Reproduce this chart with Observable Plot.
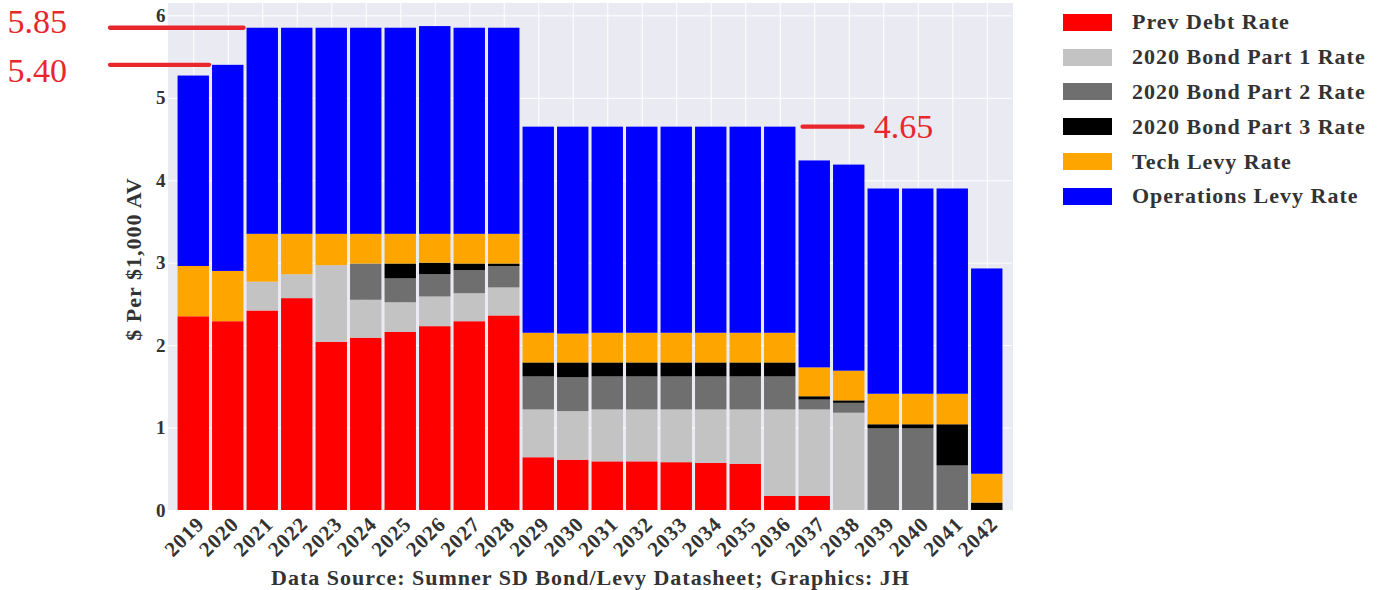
<!DOCTYPE html>
<html><head><meta charset="utf-8">
<script src="https://cdn.jsdelivr.net/npm/d3@7"></script>
<script src="https://cdn.jsdelivr.net/npm/@observablehq/plot@0.6"></script>
<style>
body{margin:0;background:#fff;}
#wrap{position:relative;width:1385px;height:590px;}
#legend{position:absolute;left:1063px;top:5px;font-family:"Liberation Serif",serif;font-weight:bold;font-size:22px;color:#333;letter-spacing:1px;}
.item{display:flex;align-items:center;height:34.8px;white-space:nowrap;}
.sw{width:49px;height:17px;margin-right:20px;}
</style></head><body><div id="wrap"><div id="legend"></div></div>
<script>
const years = ["2019","2020","2021","2022","2023","2024","2025","2026","2027","2028","2029","2030","2031","2032","2033","2034","2035","2036","2037","2038","2039","2040","2041","2042"];
const prevDebt  = [2.35,2.29,2.42,2.57,2.04,2.09,2.16,2.23,2.29,2.36,0.64,0.61,0.59,0.59,0.58,0.57,0.56,0.17,0.17,0,0,0,0,0];
const bondPart1 = [0,0,0.35,0.29,0.93,0.46,0.36,0.36,0.34,0.34,0.58,0.59,0.63,0.63,0.64,0.65,0.66,1.05,1.05,1.18,0,0,0,0];
const bondPart2 = [0,0,0,0,0,0.44,0.29,0.27,0.28,0.26,0.40,0.41,0.40,0.40,0.40,0.40,0.40,0.40,0.12,0.12,0.99,0.99,0.54,0];
const bondPart3 = [0,0,0,0,0,0,0.18,0.14,0.08,0.03,0.17,0.18,0.17,0.17,0.17,0.17,0.17,0.17,0.04,0.03,0.05,0.05,0.50,0.09];
const techLevy  = [0.61,0.61,0.58,0.49,0.38,0.36,0.36,0.35,0.36,0.36,0.36,0.35,0.36,0.36,0.36,0.36,0.36,0.36,0.35,0.36,0.37,0.37,0.37,0.35];
const opsLevy   = [2.31,2.50,2.50,2.50,2.50,2.50,2.50,2.52,2.50,2.50,2.50,2.51,2.50,2.50,2.50,2.50,2.50,2.50,2.51,2.50,2.49,2.49,2.49,2.49];
const seriesNames = ["Prev Debt Rate","2020 Bond Part 1 Rate","2020 Bond Part 2 Rate","2020 Bond Part 3 Rate","Tech Levy Rate","Operations Levy Rate"];
const seriesColors = ["#ff0000","#c3c3c3","#6f6f6f","#000000","#ffa500","#0000ff"];
const yTicks = [0,1,2,3,4,5,6];
const yLabel = "$ Per $1,000 AV";
const xLabel = "Data Source: Sumner SD Bond/Levy Datasheet; Graphics: JH";
const annotations = [
  {label: "5.85", value: 5.85, toYear: "2021"},
  {label: "5.40", value: 5.40, toYear: "2020"},
  {label: "4.65", value: 4.65, fromYear: "2037"}
];

const seriesValues = [prevDebt, bondPart1, bondPart2, bondPart3, techLevy, opsLevy];
const data = [];
seriesNames.forEach((s, si) => years.forEach((y, yi) => data.push({year: y, series: s, value: seriesValues[si][yi]})));

const serif = '"Liberation Serif", "Times New Roman", serif';
const annotColor = "#e8262c";
const annotStyle = {text: "label", fontSize: 34, fontWeight: "normal", fontFamily: serif, fill: annotColor, lineAnchor: "middle"};
const plot = Plot.plot({
  width: 1385, height: 590,
  marginLeft: 168, marginRight: 373, marginTop: 3, marginBottom: 80,
  style: {fontFamily: serif, fontWeight: "bold", color: "#333", background: "transparent", letterSpacing: "1px", overflow: "visible"},
  x: {type: "band", domain: years, paddingInner: 0.09, paddingOuter: 0.045, inset: 8, round: false, label: null},
  y: {domain: [0, 6.15], label: null},
  color: {domain: seriesNames, range: seriesColors},
  marks: [
    Plot.frame({fill: "#eaeaf2", stroke: "#eaeaf2"}),
    Plot.gridY(yTicks, {stroke: "white", strokeOpacity: 1, strokeWidth: 1}),
    Plot.gridX({stroke: "white", strokeOpacity: 1, strokeWidth: 1}),
    Plot.barY(data, {x: "year", y: "value", fill: "series", order: seriesNames}),
    Plot.axisY(yTicks, {tickSize: 0, tickPadding: 2, fontSize: 19, tickFormat: d => String(d), label: null}),
    Plot.axisX({tickSize: 0, tickPadding: 10, tickRotate: -45, fontSize: 21, dx: 7, label: null}),
    Plot.text([yLabel], {frameAnchor: "left", textAnchor: "middle", lineAnchor: "middle", dx: -35, dy: 2, rotate: -90, fontSize: 22, fontWeight: "bold", fill: "#333"}),
    Plot.text([xLabel], {frameAnchor: "bottom", textAnchor: "middle", lineAnchor: "middle", dy: 67, fontSize: 22, fontWeight: "bold", fill: "#333"}),
    Plot.text(annotations.filter(d => d.value > 5.6), {...annotStyle, frameAnchor: "left", textAnchor: "start", y: "value", dx: -161, dy: -6}),
    Plot.text(annotations.filter(d => d.toYear && d.value < 5.6), {...annotStyle, frameAnchor: "left", textAnchor: "start", y: "value", dx: -161, dy: 6}),
    Plot.text(annotations.filter(d => d.fromYear), {...annotStyle, x: "fromYear", y: "value", dx: 59, textAnchor: "start"})
  ]
});
document.getElementById("wrap").prepend(plot);

// annotation rules using the plot's scales
const xs = plot.scale("x"), ys = plot.scale("y");
const svg = d3.select(plot);
const g = svg.append("g").attr("stroke", annotColor).attr("stroke-width", 4.3).attr("stroke-linecap", "round");
annotations.forEach(a => {
  const y = ys.apply(a.value);
  let x1, x2;
  if (a.toYear) { x1 = 168 - 58; x2 = xs.apply(a.toYear) - 3; }
  else { x1 = xs.apply(a.fromYear) + 4; x2 = x1 + 60; }
  g.append("line").attr("x1", x1).attr("x2", x2).attr("y1", y).attr("y2", y);
});
svg.selectAll("g").filter(function(){ return d3.select(this).attr("fill") === annotColor; }).style("letter-spacing", "0px");
svg.selectAll("text").filter(function(){ return d3.select(this).attr("fill") === annotColor; }).style("letter-spacing", "0px");

const legend = d3.select("#legend");
seriesNames.forEach((s, i) => {
  const it = legend.append("div").attr("class", "item");
  it.append("div").attr("class", "sw").style("background", seriesColors[i]);
  it.append("span").text(s);
});
</script>
</body></html>
